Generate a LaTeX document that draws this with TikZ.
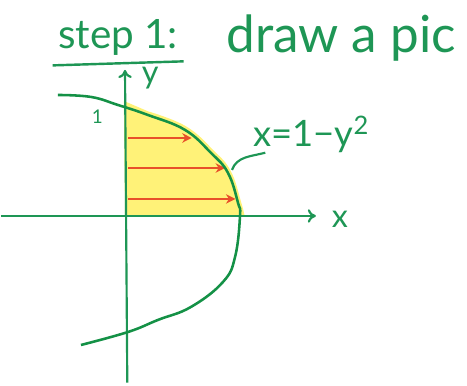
\documentclass[tikz,border=0pt]{standalone}
\usepackage{fontspec}
\setmainfont{Lato}
\usepackage{xcolor}
\usepackage{tikz}
\usetikzlibrary{arrows.meta}

\definecolor{penGreen}{RGB}{30,150,85}
\definecolor{curveGreen}{RGB}{20,145,70}
\definecolor{hiYellow}{RGB}{255,242,120}
\definecolor{penRed}{RGB}{232,80,42}

\begin{document}
\begin{tikzpicture}[x=3cm,y=3cm,
		axisline/.style={penGreen, line width=1.6pt, -{To[length=6pt,width=10pt]}},
		redarrow/.style={penRed, line width=1.8pt, -{Stealth[length=7pt,width=7pt]}},
		handtext/.style={penGreen, inner sep=0pt}]
   		\useasboundingbox (-1.087,-1.478) rectangle (2.974,1.878);
   		\coordinate (O) at (0,0);
   		
   		% shaded region
   		\fill[hiYellow] (O) -- (-0.01,1.0) -- plot[smooth, tension=0.7] coordinates {(0.2,0.91) (0.53,0.78) (0.77,0.57) (0.92,0.39) (1.01,0.12) (1.04,0)} -- cycle;
   		
   		% strips
   		\foreach \v/\e in {
   			0.678/0.58,
   			0.417/0.87,
   			0.148/0.96
   		}{
   			\draw[redarrow] (0.03,\v) -- (\e,\v);
   		}
   		
   		% axes
   		\draw[axisline] (-1.08,0) -- (1.66,0);
   		\draw[axisline] (0.02,-1.45) -- (0,1.27);
   		\node[handtext, font=\fontsize{24}{28}\selectfont] (xlab) at (1.87,-0.03) {x};
   		\node[handtext, font=\fontsize{24}{28}\selectfont] (ylab) at (0.22,1.2) {y};
   		\node[handtext, font=\fontsize{14}{16}\selectfont] (one) at (-0.24,0.86) {1};
   		
   		% parabola
   		\draw[curveGreen, line width=1.9pt] plot[smooth, tension=0.7] coordinates {
   			(-0.583,1.052) (-0.296,1.035) (-0.061,0.965) (0.2,0.878) (0.522,0.748)
   			(0.748,0.548) (0.896,0.374) (0.983,0.113) (1.0,0) (0.957,-0.357)
   			(0.852,-0.574) (0.574,-0.791) (0.287,-0.904) (0.026,-1.009) (-0.383,-1.122)};
   		
   		\node[handtext, font=\fontsize{27}{30}\selectfont] (eqn) at (1.62,0.71) {x=1−y\textsuperscript{2}};
   		\coordinate (C) at (0.93,0.40);
   		\coordinate (E) at (1.22,0.55);
   		\draw[penGreen, line width=1.6pt] (C) to[out=70,in=195] (E);
   		
   		% title
   		\node[handtext, font=\fontsize{30}{34}\selectfont] (step) at (-0.06,1.55) {step 1:};
   		\node[handtext, font=\fontsize{38}{44}\selectfont] (pic) at (1.88,1.55) {draw a pic};
   		\draw[penGreen, line width=1.8pt] ([xshift=-4pt,yshift=-7pt]step.south west) -- ([xshift=4pt,yshift=-4pt]step.south east);
   	\end{tikzpicture}
\end{document}
